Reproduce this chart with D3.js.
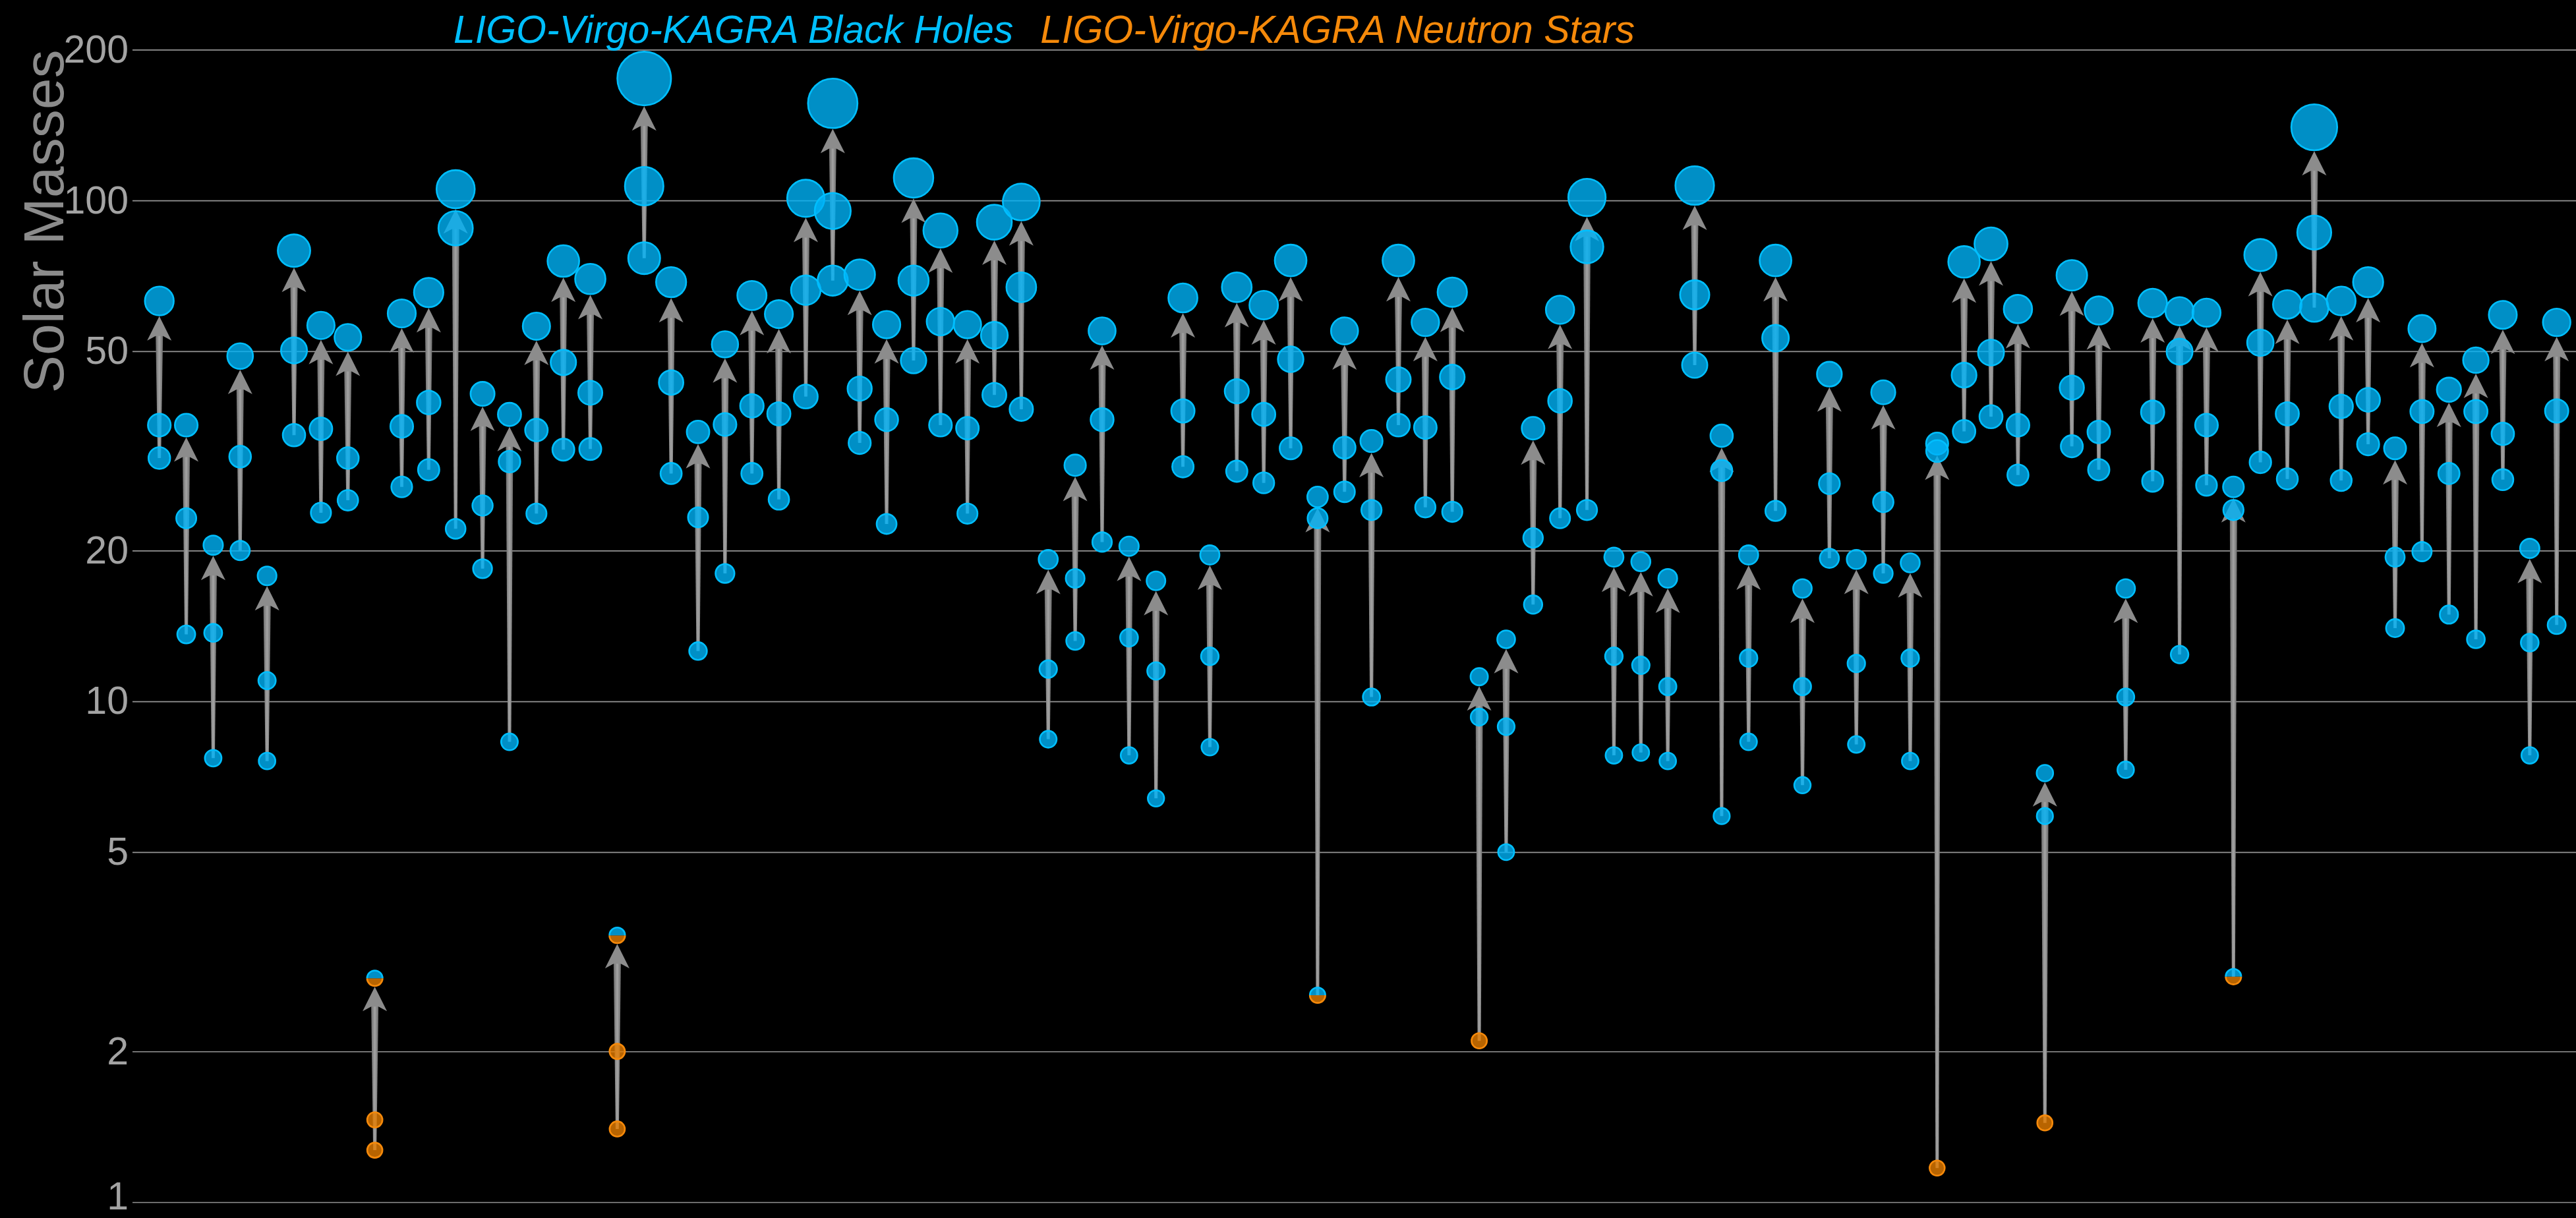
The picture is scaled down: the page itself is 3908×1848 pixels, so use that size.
<!DOCTYPE html>
<html>
<head>
<meta charset="utf-8">
<script src="https://cdn.jsdelivr.net/npm/d3@7"></script>
<style>
  html, body { margin: 0; padding: 0; background: #000; }
  svg { display: block; }
</style>
</head>
<body>
<script>
// Compact binary mergers: component masses and remnant mass (solar masses), in detection order.
const primaryMass = [
  35.6, 23.2, 13.7, 30.8, 11.0, 50.2, 35.0, 30.6, 1.46, 35.4,
  39.5, 88.0, 24.6, 30.1, 34.8, 47.5, 41.3, 2.0, 106.8, 43.3,
  23.3, 35.7, 38.9, 37.5, 66.2, 95.3, 42.1, 36.5, 69.2, 57.3,
  35.1, 53.8, 67.1, 11.6, 17.6, 36.5, 13.4, 11.5, 38.0, 12.3,
  41.6, 37.4, 48.2, 23.2, 32.1, 24.1, 43.9, 35.2, 44.4, 9.3,
  8.9, 21.2, 39.8, 80.8, 12.3, 11.8, 10.7, 64.8, 28.9, 12.2,
  53.1, 10.7, 27.2, 11.9, 25.0, 12.2, 31.6, 44.8, 49.7, 35.6,
  5.9, 42.3, 34.5, 10.2, 37.8, 49.9, 35.6, 24.1, 52.0, 37.5,
  86.3, 38.8, 40.0, 19.4, 37.9, 28.5, 37.9, 34.2, 13.1, 38.0
];
const secondaryMass = [
  30.6, 13.6, 7.7, 20.0, 7.6, 34.0, 23.8, 25.2, 1.27, 26.8,
  29.0, 22.1, 18.4, 8.3, 23.7, 31.8, 31.9, 1.40, 76.7, 28.5,
  12.6, 18.0, 28.5, 25.3, 40.6, 69.2, 32.8, 22.6, 47.9, 35.6,
  23.7, 40.9, 38.3, 8.4, 13.2, 20.8, 7.8, 6.4, 29.4, 8.1,
  28.8, 27.3, 32.0, 2.59, 26.2, 10.2, 35.6, 24.4, 23.9, 2.10,
  5.0, 15.6, 23.2, 24.1, 7.8, 7.9, 7.6, 46.9, 5.9, 8.3,
  24.0, 6.8, 19.3, 8.2, 18.0, 7.6, 1.17, 34.6, 37.0, 28.3,
  1.44, 32.3, 29.0, 7.3, 27.5, 12.4, 27.0, 2.82, 30.0, 27.8,
  61.1, 27.6, 32.6, 14.0, 19.9, 14.9, 13.3, 27.7, 7.8, 14.2
];
const finalMass = [
  63.0, 35.6, 20.5, 48.9, 17.8, 79.4, 56.3, 53.3, 2.80, 59.5,
  65.5, 105.3, 41.1, 37.4, 56.1, 75.7, 69.7, 3.41, 175.2, 68.7,
  34.5, 51.6, 64.6, 59.3, 101.0, 156.3, 71.1, 56.5, 110.9, 87.1,
  56.5, 90.5, 99.3, 19.2, 29.6, 54.9, 20.4, 17.4, 63.9, 19.6,
  67.1, 61.8, 75.9, 25.6, 54.9, 33.1, 75.9, 57.1, 65.6, 11.2,
  13.3, 35.1, 60.5, 101.4, 19.4, 19.0, 17.6, 107.1, 33.9, 19.6,
  75.9, 16.8, 45.0, 19.2, 41.4, 18.9, 32.7, 75.4, 81.9, 60.7,
  7.19, 70.9, 60.3, 16.8, 62.4, 60.1, 59.7, 26.8, 77.8, 62.0,
  140.0, 63.0, 68.7, 32.0, 55.5, 41.9, 48.0, 59.1, 20.2, 57.1
];

// Objects that are not plain black holes: "ns" = neutron star, "mixed" = uncertain nature.
const nonBlackHoles = [
  { event: 8,  object: "primary",   kind: "ns" },
  { event: 8,  object: "secondary", kind: "ns" },
  { event: 8,  object: "final",     kind: "mixed" },
  { event: 17, object: "primary",   kind: "ns" },
  { event: 17, object: "secondary", kind: "ns" },
  { event: 17, object: "final",     kind: "mixed" },
  { event: 43, object: "secondary", kind: "mixed" },
  { event: 49, object: "secondary", kind: "ns" },
  { event: 66, object: "secondary", kind: "ns" },
  { event: 70, object: "secondary", kind: "ns" },
  { event: 77, object: "secondary", kind: "mixed" }
];

const yTicks = [1, 2, 5, 10, 20, 50, 100, 200];
const legendLabels = ["LIGO-Virgo-KAGRA Black Holes", "LIGO-Virgo-KAGRA Neutron Stars"];
const axisTitle = "Solar Masses";

// ---------------------------------------------------------------------------
const W = 3908, H = 1848;
const plotLeft = 201;
const BLUE = "#00bfff", BLUE_FILL = "#00b3f8";
const ORANGE = "#f5890a", ORANGE_FILL = "#e67d00";
const FONT = "'Liberation Sans', Arial, Helvetica, sans-serif";

const y = d3.scaleLog().domain([1, 200]).range([1824, 75.4]);
const x = d3.scalePoint().domain(d3.range(finalMass.length)).range([241.7, 3878.7]);
const r = d3.scaleLinear().domain([0, 200]).range([11.3, 44.9]);

const kindOf = (i, object) => {
  const hit = nonBlackHoles.find(d => d.event === i && d.object === object);
  return hit ? hit.kind : "bh";
};

const svg = d3.select("body").append("svg")
  .attr("width", W).attr("height", H)
  .style("background", "#000");

const defs = svg.append("defs");
const grad = defs.append("linearGradient").attr("id", "shaftShade")
  .attr("x1", 0).attr("x2", 1).attr("y1", 0).attr("y2", 0);
grad.append("stop").attr("offset", "0%").attr("stop-color", "#6c6c6c");
grad.append("stop").attr("offset", "50%").attr("stop-color", "#a4a4a4");
grad.append("stop").attr("offset", "100%").attr("stop-color", "#6c6c6c");

// Gridlines and tick labels
const axis = d3.axisLeft(y)
  .tickValues(yTicks)
  .tickFormat(d3.format("d"))
  .tickSizeInner(-(W - plotLeft))
  .tickSizeOuter(0)
  .tickPadding(6);

const gAxis = svg.append("g")
  .attr("transform", `translate(${plotLeft},0)`)
  .call(axis);
gAxis.select(".domain").remove();
gAxis.selectAll(".tick line")
  .attr("stroke", "#959595")
  .attr("stroke-width", 1.7);
gAxis.selectAll(".tick text")
  .attr("fill", "#a3a3a3")
  // the lowest label sits against the bottom edge, so lift it slightly to keep it whole
  .attr("dy", d => d === yTicks[0] ? "0.18em" : "0.32em")
  .style("font-family", FONT)
  .style("font-size", "59px");

// Axis title
svg.append("text")
  .attr("transform", "translate(96,336) rotate(-90)")
  .attr("text-anchor", "middle")
  .attr("fill", "#8c8c8c")
  .style("font-family", FONT)
  .style("font-size", "86px")
  .text(axisTitle);

// Legend
const legendColors = [BLUE, ORANGE];
let lx = 688;
legendLabels.forEach((label, k) => {
  const t = svg.append("text")
    .attr("x", lx).attr("y", 65)
    .attr("fill", legendColors[k])
    .style("font-family", FONT)
    .style("font-style", "italic")
    .style("font-size", "59px")
    .text(label);
  lx += t.node().getComputedTextLength() + 41;
});

// Arrows: tapered shaft from the lighter component up to the remnant, with a chevron head
const headW = 37, headH = 37, notch = 7, shaftTop = 11, shaftBottom = 5;
const events = d3.range(finalMass.length).map(i => ({
  i,
  cx: x(i),
  m1: primaryMass[i],
  m2: secondaryMass[i],
  mf: finalMass[i]
}));

const gArrows = svg.append("g").attr("class", "arrows");
events.forEach(e => {
  const tipY = y(e.mf) + r(e.mf) + 1.3;
  const baseY = y(e.m2);
  const neckY = tipY + headH - notch;
  const cx = e.cx;
  gArrows.append("path")
    .attr("d", `M${cx - shaftTop / 2},${tipY + 12} L${cx + shaftTop / 2},${tipY + 12}
                L${cx + shaftTop / 2},${neckY} L${cx + shaftBottom / 2},${baseY}
                L${cx - shaftBottom / 2},${baseY} L${cx - shaftTop / 2},${neckY} Z`)
    .attr("fill", "url(#shaftShade)");
  gArrows.append("path")
    .attr("d", `M${cx},${tipY} L${cx + headW / 2},${tipY + headH} L${cx + shaftTop / 2},${neckY}
                L${cx - shaftTop / 2},${neckY} L${cx - headW / 2},${tipY + headH} Z`)
    .attr("fill", "#8c8c8c");
});

// Circles for each object, radius growing with mass
const bodies = [];
events.forEach(e => {
  bodies.push({ cx: e.cx, m: e.mf, kind: kindOf(e.i, "final") });
  bodies.push({ cx: e.cx, m: e.m1, kind: kindOf(e.i, "primary") });
  bodies.push({ cx: e.cx, m: e.m2, kind: kindOf(e.i, "secondary") });
});

const gBodies = svg.append("g").attr("class", "bodies");
const plain = bodies.filter(b => b.kind !== "mixed");
gBodies.selectAll("circle").data(plain).join("circle")
  .attr("cx", b => b.cx)
  .attr("cy", b => y(b.m))
  .attr("r", b => r(b.m))
  .attr("fill", b => b.kind === "ns" ? ORANGE_FILL : BLUE_FILL)
  .attr("fill-opacity", 0.8)
  .attr("stroke", b => b.kind === "ns" ? ORANGE : BLUE)
  .attr("stroke-width", 2.6);

// Uncertain objects: upper half blue, lower half orange
bodies.filter(b => b.kind === "mixed").forEach(b => {
  const cx = b.cx, cy = y(b.m), rr = r(b.m);
  const top = `M${cx - rr},${cy} A${rr},${rr} 0 0 1 ${cx + rr},${cy}`;
  const bottom = `M${cx + rr},${cy} A${rr},${rr} 0 0 1 ${cx - rr},${cy}`;
  const g = gBodies.append("g");
  g.append("path").attr("d", bottom + " Z").attr("fill", ORANGE_FILL).attr("fill-opacity", 0.8);
  g.append("path").attr("d", top + " Z").attr("fill", BLUE_FILL).attr("fill-opacity", 0.8);
  g.append("path").attr("d", bottom).attr("fill", "none").attr("stroke", ORANGE).attr("stroke-width", 2.6);
  g.append("path").attr("d", top).attr("fill", "none").attr("stroke", BLUE).attr("stroke-width", 2.6);
});
</script>
</body>
</html>
